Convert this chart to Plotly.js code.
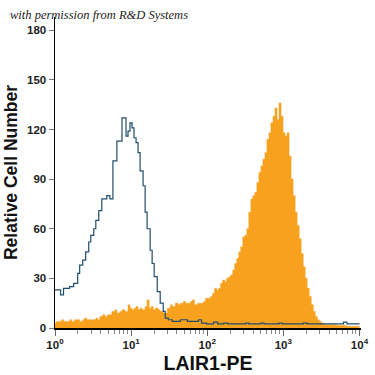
<!DOCTYPE html>
<html>
<head>
<meta charset="utf-8">
<script src="https://cdn.plot.ly/plotly-3.0.1.min.js"></script>
<style>html,body{margin:0;padding:0;background:#fff;}#chart{width:375px;height:375px;}</style>
</head>
<body>
<div id="chart"></div>
<script>
// Isotype control (open histogram): log10 fluorescence and counts
const controlLogX = [0.000,0.073,0.112,0.192,0.245,0.298,0.324,0.364,0.403,0.443,0.470,0.509,0.536,0.575,0.615,0.681,0.721,0.761,0.813,0.880,0.933,0.959,0.985,1.012,1.038,1.065,1.091,1.118,1.157,1.184,1.210,1.250,1.276,1.303,1.343,1.382,1.422,1.448,1.488,1.541,1.647,1.739,1.885,1.925,1.991,2.083,2.136,2.216,2.269,2.507,2.546,2.705,2.745,2.943,2.983,3.261,3.313,3.790,3.836,4.001];
const controlCounts = [23,20,24,25,27,33,38,41,46,52,56,60,65,71,78,80,78,101,113,127,116,119,124,121,115,112,106,95,86,70,60,47,39,31,22,15,10,6,5,4,5,4,5,3,2.5,3.5,2.5,3,2.5,3,2.5,3,2.5,3,2.5,3,2.5,3.5,2.5,2.5];

// LAIR1-PE stained (filled histogram)
const stainedLogX = [0.000,0.020,0.060,0.086,0.112,0.152,0.192,0.218,0.258,0.298,0.324,0.364,0.390,0.417,0.456,0.496,0.536,0.562,0.589,0.628,0.655,0.694,0.721,0.747,0.787,0.813,0.853,0.880,0.919,0.959,0.985,1.012,1.038,1.065,1.091,1.118,1.144,1.184,1.210,1.237,1.263,1.290,1.316,1.356,1.382,1.422,1.448,1.475,1.515,1.541,1.581,1.620,1.647,1.687,1.713,1.753,1.779,1.806,1.832,1.872,1.911,1.951,1.978,2.004,2.044,2.070,2.097,2.123,2.149,2.176,2.202,2.229,2.255,2.282,2.308,2.335,2.361,2.388,2.414,2.440,2.467,2.493,2.520,2.546,2.573,2.599,2.626,2.652,2.679,2.705,2.731,2.758,2.784,2.811,2.837,2.864,2.890,2.917,2.943,2.970,2.996,3.022,3.049,3.075,3.102,3.128,3.155,3.181,3.208,3.234,3.261,3.287,3.313,3.340,3.366,3.393,3.419,3.446,3.472,3.499,3.538,3.578,3.631,3.697,3.763,3.829,3.896,3.962,4.001];
const stainedCounts = [3,4,4,5,4,4,5,4,5,5,4,5,6,5,5,5,6,5,7,8,7,8,8,10,11,9,10,11,10,14,12,11,12,13,11,12,11,13,17,12,13,11,12,11,10,9,9,12,14,13,15,14,15,16,15,15,16,17,14,15,15,16,18,18,19,21,24,23,24,27,29,28,30,31,32,35,39,42,46,49,55,56,60,70,78,80,82,88,94,98,102,106,114,118,124,128,133,126,136,128,118,116,118,104,90,80,70,62,54,45,37,30,24,19,14,10,7,5,4,3,2,2,2,1.5,1.5,1,1,1,1];

const yTicks = [0,30,60,90,120,150,180];
const xTicks = [1,10,100,1000,10000];
const xTickText = ['10<sup>0</sup>','10<sup>1</sup>','10<sup>2</sup>','10<sup>3</sup>','10<sup>4</sup>'];
const xMinorTicks = [2,3,4,5,6,7,8,9,20,30,40,50,60,70,80,90,200,300,400,500,600,700,800,900,2000,3000,4000,5000,6000,7000,8000,9000];

const toLin = a => a.map(e => Math.pow(10, e));

const traces = [
  {
    x: toLin(stainedLogX), y: stainedCounts, type: 'scatter', mode: 'lines',
    line: {shape: 'hv', color: '#f7a11e', width: 0.5},
    fill: 'tozeroy', fillcolor: '#f7a11e', hoverinfo: 'skip', showlegend: false
  },
  {
    x: toLin(controlLogX), y: controlCounts, type: 'scatter', mode: 'lines',
    line: {shape: 'hv', color: '#1f4d6b', width: 1.2},
    hoverinfo: 'skip', showlegend: false
  }
];

const tickFont = {family: 'Liberation Sans, Arial, sans-serif', size: 11.5, color: '#222', weight: 'bold'};

const layout = {
  width: 375, height: 375,
  margin: {l: 55, r: 14, t: 17, b: 47},
  paper_bgcolor: '#fff', plot_bgcolor: '#fff',
  xaxis: {
    type: 'log', range: [0, 4.02],
    tickmode: 'array', tickvals: xTicks, ticktext: xTickText,
    ticks: 'outside', ticklen: 6, tickcolor: '#666', tickwidth: 1,
    showline: true, linecolor: '#000', linewidth: 1.5,
    showgrid: false, zeroline: false,
    tickfont: tickFont,
    minor: {tickmode: 'array', tickvals: xMinorTicks, ticks: 'outside', ticklen: 4, tickcolor: '#888', showgrid: false},
    title: {text: 'LAIR1-PE', font: {family: 'Liberation Sans, Arial, sans-serif', size: 19.5, color: '#111', weight: 'bold'}, standoff: 6}
  },
  yaxis: {
    range: [0, 188],
    tickmode: 'array', tickvals: yTicks,
    ticks: 'outside', ticklen: 5, tickcolor: '#777', tickwidth: 1,
    showline: true, linecolor: '#000', linewidth: 1.5,
    showgrid: false, zeroline: false,
    tickfont: tickFont,
    title: {text: 'Relative Cell Number', font: {family: 'Liberation Sans, Arial, sans-serif', size: 17.5, color: '#111', weight: 'bold'}, standoff: 5}
  },
  annotations: [{
    text: 'with permission from R&amp;D Systems',
    xref: 'paper', yref: 'paper', x: -0.154, y: 1.006, xanchor: 'left', yanchor: 'middle',
    showarrow: false,
    font: {family: 'Liberation Serif, serif', size: 12.5, color: '#222', style: 'italic'}
  }]
};

Plotly.newPlot('chart', traces, layout, {displayModeBar: false, staticPlot: true});
</script>
</body>
</html>
